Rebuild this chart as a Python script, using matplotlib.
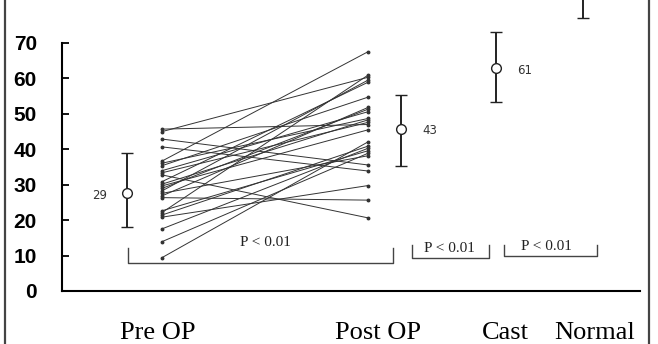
import numpy as np
import matplotlib.pyplot as plt
from matplotlib.lines import Line2D

# group summary (mean with upper / lower error bar ends)
groups = ["Pre OP", "Post OP", "Cast", "Normal"]
means = [27.7, 45.6, 62.7, 86.0]
upper = [38.8, 55.2, 73.0, 95.0]
lower = [18.1, 35.2, 53.2, 77.0]
mean_labels = ["29", "43", "61", ""]

# individual patients, pre-op -> post-op
pre_op = [45.6, 44.9, 42.8, 40.6, 36.6, 36.0, 35.3, 33.9, 33.3, 32.7, 30.8, 30.1, 29.6,
          28.9, 28.2, 27.5, 26.8, 26.3, 22.6, 22.1, 21.4, 20.8, 17.5, 13.9, 9.4]
post_op = [46.9, 60.2, 35.5, 33.8, 67.4, 48.6, 54.6, 50.5, 47.5, 20.6, 58.8, 48.2, 45.4,
           51.2, 59.4, 38.1, 51.7, 25.6, 39.5, 60.8, 40.8, 29.7, 40.2, 38.8, 42.0]

p_labels = ["P < 0.01", "P < 0.01", "P < 0.01"]

# layout (x in pixel-like units)
W, H = 658, 344
bar_x = np.array([127, 401, 496, 583])
pair_x = [162, 368]
label_x = [158, 378, 505, 595]
brackets = [(128, 393, 7.9, 12.1, 265, 13.6),
            (412, 489, 9.3, 13.0, 449, 12.1),
            (504, 597, 9.9, 13.0, 546, 12.4)]

fig = plt.figure(figsize=(W/100, H/100), dpi=100)
ax = fig.add_axes([62/W, 53/H, 578/W, 291/H])
ax.set_xlim(62, 640)
ax.set_ylim(0, 291/3.55)

for a, b in zip(pre_op, post_op):
    ax.plot(pair_x, [a, b], color='#333333', lw=0.7, marker='o', ms=1.8)

means = np.array(means)
yerr = [means - np.array(lower), np.array(upper) - means]
ax.errorbar(bar_x, means, yerr=yerr, fmt='o', mfc='white', mec='#222222', mew=1.0,
            ms=7, color='#222222', ecolor='#222222', elinewidth=1.4, capsize=4, capthick=1.4)

for i, lab in enumerate(mean_labels):
    if not lab:
        continue
    if i == 0:
        ax.text(bar_x[i] - 27, means[i] - 0.8, lab, ha='center', va='center', fontsize=8.5, color='#333333')
    else:
        ax.text(bar_x[i] + 29, means[i] - 0.5, lab, ha='center', va='center', fontsize=8.5, color='#333333')

for (x0, x1, yb, yt, tx, ty), lab in zip(brackets, p_labels):
    ax.plot([x0, x0, x1, x1], [yt, yb, yb, yt], color='#444444', lw=1.0)
    ax.text(tx, ty, lab, ha='center', va='center', fontsize=11, family='Liberation Serif', color='#222222')

ax.spines['top'].set_visible(False)
ax.spines['right'].set_visible(False)
ax.spines['left'].set_bounds(0, 70)
ax.spines['left'].set_linewidth(1.5)
ax.spines['bottom'].set_linewidth(1.5)

ax.set_yticks(range(0, 71, 10))
ax.tick_params(axis='y', direction='in', length=5, width=1.3, pad=18)
for t in ax.get_yticklabels():
    t.set_fontfamily('Liberation Sans')
    t.set_fontweight('bold')
    t.set_fontsize(15)

ax.set_xticks(label_x, groups)
ax.tick_params(axis='x', length=0, pad=22)
for t in ax.get_xticklabels():
    t.set_fontfamily('Liberation Serif')
    t.set_fontsize(19)

# scanned page frame edges
fig.add_artist(Line2D([5/W, 5/W], [0, 1], color='#444444', lw=1.6))
fig.add_artist(Line2D([649/W, 649/W], [0, 1], color='#444444', lw=1.6))

fig.savefig('out.png', dpi=100)
